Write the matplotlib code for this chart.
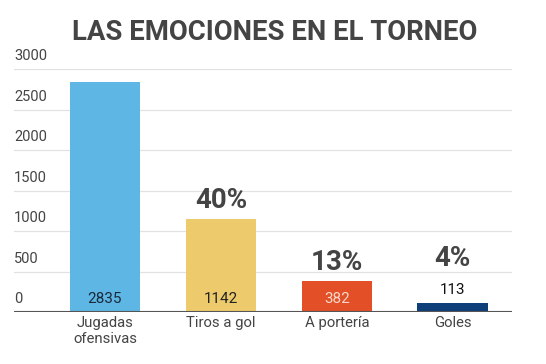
import matplotlib
matplotlib.use("Agg")
from matplotlib import pyplot as plt
import numpy as np

plt.rcParams['font.family'] = ['Roboto', 'DejaVu Sans']

categorias = ['Jugadas\nofensivas', 'Tiros a gol', 'A portería', 'Goles']
valores = [2835, 1142, 382, 113]
porcentajes = ['', '40%', '13%', '4%']
colores = ['#5EB6E4', '#EDCB6C', '#E34F26', '#0F3F79']
color_num = ['#1a2a3a', '#222222', '#F6D9CC', '#111111']
yticks = [0, 500, 1000, 1500, 2000, 2500, 3000]

fig = plt.figure(figsize=(5.46, 3.64), dpi=100)
ax = fig.add_axes([14 / 546, 1 - 312 / 364, 498 / 546, 243 / 364])

x = np.arange(len(categorias))
ax.bar(x, valores, width=0.61, color=colores, zorder=2)
ax.set_xlim(-0.784, 3.51)
ax.set_ylim(0, 3000)

# gridlines and labels sitting above them
for t in yticks[1:]:
    ax.axhline(t, color='#e2e2e2', lw=0.9, zorder=1)
for t in yticks:
    ax.annotate(str(t), xy=(0, t), xycoords=('axes fraction', 'data'),
                xytext=(0, 4), textcoords='offset points',
                ha='left', va='bottom', fontsize=10.5, color='#444444')
ax.axhline(0, color='#555555', lw=1.5, zorder=3)

for i, v in enumerate(valores):
    if v > 250:
        ax.annotate(str(v), xy=(i, 0), xytext=(0, 4), textcoords='offset points',
                    ha='center', va='bottom', fontsize=11, color=color_num[i], zorder=4)
    else:
        ax.annotate(str(v), xy=(i, v), xytext=(0, 4), textcoords='offset points',
                    ha='center', va='bottom', fontsize=11, color=color_num[i], zorder=4)
    if porcentajes[i]:
        off = 4 if v > 250 else 22
        ax.annotate(porcentajes[i], xy=(i, v), xytext=(0, off), textcoords='offset points',
                    ha='center', va='bottom', fontsize=20, fontweight='bold',
                    color='#444444')

ax.set_xticks(x)
ax.set_xticklabels(categorias, fontsize=10.7, color='#444444', linespacing=1.15)
ax.tick_params(axis='x', length=0, pad=3)
ax.set_yticks([])
for s in ax.spines.values():
    s.set_visible(False)

fig.text(275 / 546, 1 - 32 / 364, 'LAS EMOCIONES EN EL TORNEO', ha='center', va='center',
         fontsize=19.8, fontweight='bold', color='#444444')

fig.savefig('out.png', dpi=100, facecolor='white')
